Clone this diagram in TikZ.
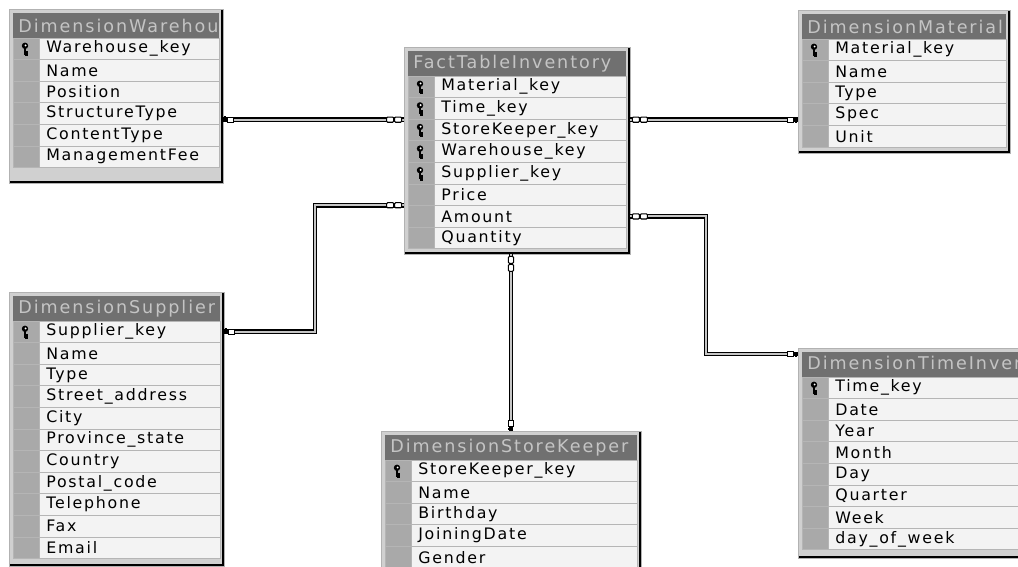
\documentclass[tikz,border=0pt]{standalone}
\usepackage{fontspec}
\newfontfamily\erfont[LetterSpace=11]{DejaVu Sans}
\usetikzlibrary{fit,calc}
\definecolor{frameGray}{HTML}{D0D0D0}
\definecolor{barGray}{HTML}{707070}
\definecolor{titleText}{HTML}{C4C4C4}
\definecolor{rowWhite}{HTML}{F3F3F3}
\definecolor{cellGray}{HTML}{A9A9A9}
\definecolor{sepGray}{HTML}{B5B5B5}

\begin{document}
\begin{tikzpicture}[x=0.02cm, y=-0.02cm, font=\erfont\fontsize{9}{10}\selectfont,
tablebox/.style={
% the frame:
fill=frameGray, draw=gray!60, line width=0.4pt, inner sep=0pt,
% the dark shadow edge:
path picture={\draw[black, line width=2.2pt] (path picture bounding box.north east) -- (path picture bounding box.south east) -- (path picture bounding box.south west);}
},
titlebar/.style={fill=barGray},
titletext/.style={text=titleText, font=\erfont\fontsize{10}{12}\selectfont, anchor=west, inner sep=0pt},
rowbox/.style={fill=rowWhite, draw=sepGray, line width=0.5pt, inner sep=0pt},
cellbox/.style={fill=cellGray, draw=sepGray, line width=0.5pt},
field/.style={anchor=west, inner sep=0pt},
link/.style={draw=black, line width=0.8pt, double=gray!45, double distance=1.2pt},
endmark/.style={draw=black, fill=white, line width=0.6pt},
many/.pic={\draw[endmark, rounded corners=0.6pt] (2,-2.6) rectangle (9,2.6) (10,-2.6) rectangle (17,2.6);},
onekey/.pic={\draw[black, line width=1pt] (0,0) -- (4,0) (1.5,0) -- (1.5,-3.5); \draw[endmark] (4,-2.6) rectangle (10,2.6);},
cellkey/.pic={\fill (0,-3) circle (3.2); \fill[white] (0.6,-3.3) circle (1.1); \draw[line width=1.6pt] (0,-1) -- (0,6) (0,3.5) -- (2.6,3.5) (0,6) -- (2.6,6);}
]

\useasboundingbox (0,0) rectangle (1018,567);

% tables: name/left/right/top/bottom/title/rows
\foreach \n/\lx/\rx/\ty/\by/\t/\rows in {
  ware/9/223/9/183/DimensionWarehouse/{1/Warehouse\_key,0/Name,0/Position,0/StructureType,0/ContentType,0/ManagementFee},
  fact/404/630/47/254/FactTableInventory/{1/Material\_key,1/Time\_key,1/StoreKeeper\_key,1/Warehouse\_key,1/Supplier\_key,0/Price,0/Amount,0/Quantity},
  mat/798/1010/10/153/DimensionMaterial/{1/Material\_key,0/Name,0/Type,0/Spec,0/Unit},
  sup/9/224/292/566/DimensionSupplier/{1/Supplier\_key,0/Name,0/Type,0/Street\_address,0/City,0/Province\_state,0/Country,0/Postal\_code,0/Telephone,0/Fax,0/Email},
  keep/381/641/431/590/DimensionStoreKeeper/{1/StoreKeeper\_key,0/Name,0/Birthday,0/JoiningDate,0/Gender},
  time/798/1045/348/558/DimensionTimeInventory/{1/Time\_key,0/Date,0/Year,0/Month,0/Day,0/Quarter,0/Week,0/day\_of\_week}}{
  \node[tablebox, fit={(\lx,\ty) (\rx,\by)}] (\n) {};
  \fill[titlebar] ({\lx+4},{\ty+4}) rectangle ({\rx-4},{\ty+29});
  \begin{scope}
    \clip ({\lx+4},{\ty+4}) rectangle ({\rx-4},{\ty+29});
    \node[titletext] (\n-title) at ({\lx+9},{\ty+17}) {\t};
  \end{scope}
  \foreach \iskey/\fname [count=\i] in \rows {
    \node[rowbox, fit={({\lx+30},{\ty+29+(\i-1)*21.6}) ({\rx-4},{\ty+29+\i*21.6})}] (\n-\i) {};
    \draw[cellbox] ({\lx+4},{\ty+29+(\i-1)*21.6}) rectangle ({\lx+30},{\ty+29+\i*21.6});
    \node[field] (\n-\i-text) at ({\lx+37},{\ty+29+(\i-0.5)*21.6}) {\fname};
    \ifnum\iskey=1 \pic at ({\lx+16},{\ty+29+(\i-0.5)*21.6}) {cellkey}; \fi
  }
}

% relationships
\coordinate (bendS) at (315,0);
\coordinate (bendT) at (706,354);
\draw[link] (fact-2.south -| fact.west) -- (fact-2.south -| ware.east);
\draw[link] (fact-2.south -| fact.east) -- (fact-2.south -| mat.west);
\draw[link] (fact-7.north -| fact.west) -| (bendS |- sup-1) -- (sup-1 -| sup.east);
\draw[link] (fact-7 -| fact.east) -| (bendT) -- (bendT -| time.west);
\draw[link] (keep.north |- fact.south) -- (keep.north);

% end marks
\pic[rotate=180] at (fact-2.south -| fact.west) {many};
\pic at (fact-2.south -| fact.east) {many};
\pic[rotate=180] at (fact-7.north -| fact.west) {many};
\pic at (fact-7 -| fact.east) {many};
\pic[rotate=-90] at (keep.north |- fact.south) {many};
\pic at (fact-2.south -| ware.east) {onekey};
\pic[rotate=180] at (fact-2.south -| mat.west) {onekey};
\pic at (sup-1 -| sup.east) {onekey};
\pic[rotate=180] at (bendT -| time.west) {onekey};
\pic[rotate=90] at (keep.north) {onekey};
\end{tikzpicture}
\end{document}
